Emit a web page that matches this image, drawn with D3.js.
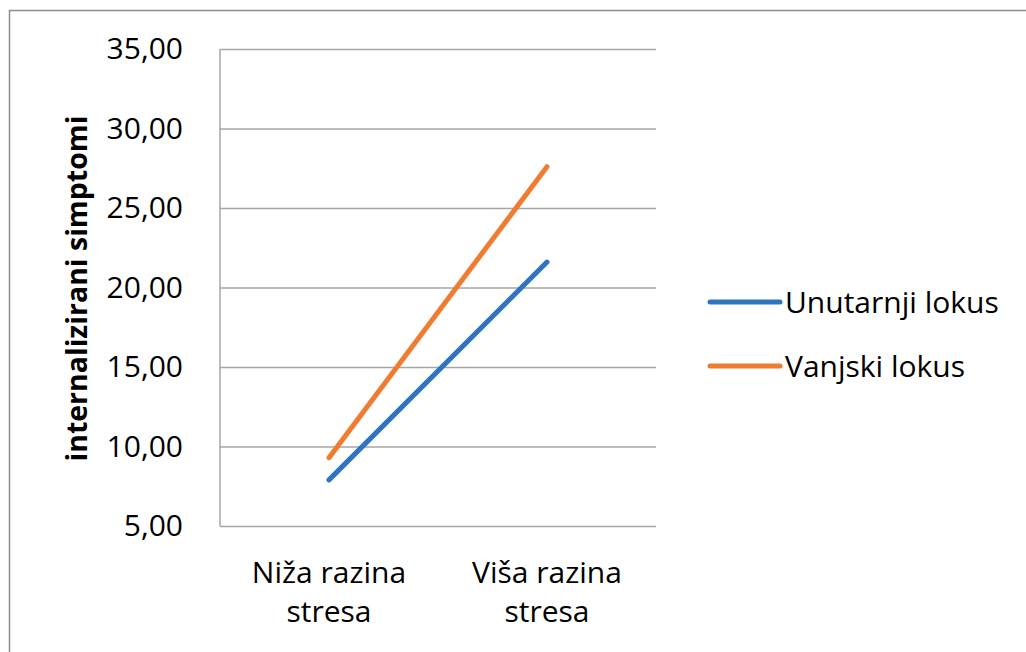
<!DOCTYPE html>
<html>
<head>
<meta charset="utf-8">
<script src="https://cdn.jsdelivr.net/npm/d3@7"></script>
<style>
  html, body { margin: 0; padding: 0; background: #fff; }
  svg { display: block; font-family: "Open Sans", "Noto Sans", sans-serif; }
</style>
</head>
<body>
<div id="chart"></div>
<script>
'use strict';

const W = 1026, H = 652;
const MARGIN = { top: 49, right: 370, bottom: 126, left: 220 };

const CATEGORIES = [['Niža razina', 'stresa'], ['Viša razina', 'stresa']];
const SERIES_NAMES = ['Unutarnji lokus', 'Vanjski lokus'];
const SERIES_VALUES = [
  [7.9, 21.6],
  [9.3, 27.6],
];
const Y_TICKS = [5, 10, 15, 20, 25, 30, 35];
const COLORS = ['#2e75c0', '#f07c30'];

const w = W - MARGIN.left - MARGIN.right;
const h = H - MARGIN.top - MARGIN.bottom;

const svg = d3.select('#chart').append('svg')
  .attr('width', W).attr('height', H);

// outer frame
svg.append('rect')
  .attr('x', 9.5).attr('y', 10.5)
  .attr('width', W + 20).attr('height', H + 20)
  .attr('fill', 'none').attr('stroke', '#8c8c8c').attr('stroke-width', 1.5);

const g = svg.append('g').attr('transform', `translate(${MARGIN.left},${MARGIN.top})`);

const x = d3.scaleBand().domain(d3.range(CATEGORIES.length)).range([0, w]);
const y = d3.scaleLinear().domain([5, 35]).range([h, 0]);
const fmt = v => d3.format('.2f')(v).replace('.', ',');

// gridlines
g.append('g')
  .call(d3.axisLeft(y).tickValues(Y_TICKS).tickSize(-w).tickFormat(''))
  .call(s => s.select('.domain').remove())
  .call(s => s.selectAll('line').attr('stroke', '#a6a6a6').attr('stroke-width', 1.5));

// left axis line
g.append('line')
  .attr('x1', 0).attr('x2', 0).attr('y1', 0).attr('y2', h)
  .attr('stroke', '#a6a6a6').attr('stroke-width', 1.5);

// y tick labels
g.append('g')
  .call(d3.axisLeft(y).tickValues(Y_TICKS).tickSize(0).tickPadding(37).tickFormat(fmt))
  .call(s => s.select('.domain').remove())
  .call(s => s.selectAll('text')
    .attr('font-size', '30px').attr('fill', '#000')
    .attr('font-family', '"Open Sans", sans-serif'));

// x labels
const xl = g.append('g').attr('transform', `translate(0,${h})`);
CATEGORIES.forEach((lines, i) => {
  const t = xl.append('text')
    .attr('x', x(i) + x.bandwidth() / 2)
    .attr('text-anchor', 'middle')
    .attr('font-size', '30px').attr('fill', '#000');
  lines.forEach((ln, j) => {
    t.append('tspan')
      .attr('x', x(i) + x.bandwidth() / 2)
      .attr('y', 57 + j * 39)
      .text(ln);
  });
});

// axis title
svg.append('text')
  .attr('transform', `translate(87,${MARGIN.top + h / 2 + 1}) rotate(-90)`)
  .attr('text-anchor', 'middle')
  .attr('font-size', '28.5px').attr('font-weight', 'bold').attr('fill', '#000')
  .text('internalizirani simptomi');

// lines
const line = d3.line()
  .x((d, i) => x(i) + x.bandwidth() / 2)
  .y(d => y(d));

SERIES_VALUES.forEach((vals, si) => {
  g.append('path')
    .datum(vals)
    .attr('d', line)
    .attr('fill', 'none')
    .attr('stroke', COLORS[si])
    .attr('stroke-width', 5)
    .attr('stroke-linecap', 'round');
});

// legend
const legend = svg.append('g').attr('transform', 'translate(710,302)');
SERIES_NAMES.forEach((name, i) => {
  const row = legend.append('g').attr('transform', `translate(0,${i * 64})`);
  row.append('line')
    .attr('x1', 0).attr('x2', 70).attr('y1', 0).attr('y2', 0)
    .attr('stroke', COLORS[i]).attr('stroke-width', 5).attr('stroke-linecap', 'round');
  row.append('text')
    .attr('x', 75).attr('y', 11)
    .attr('font-size', '30px').attr('fill', '#000')
    .text(name);
});
</script>
</body>
</html>
